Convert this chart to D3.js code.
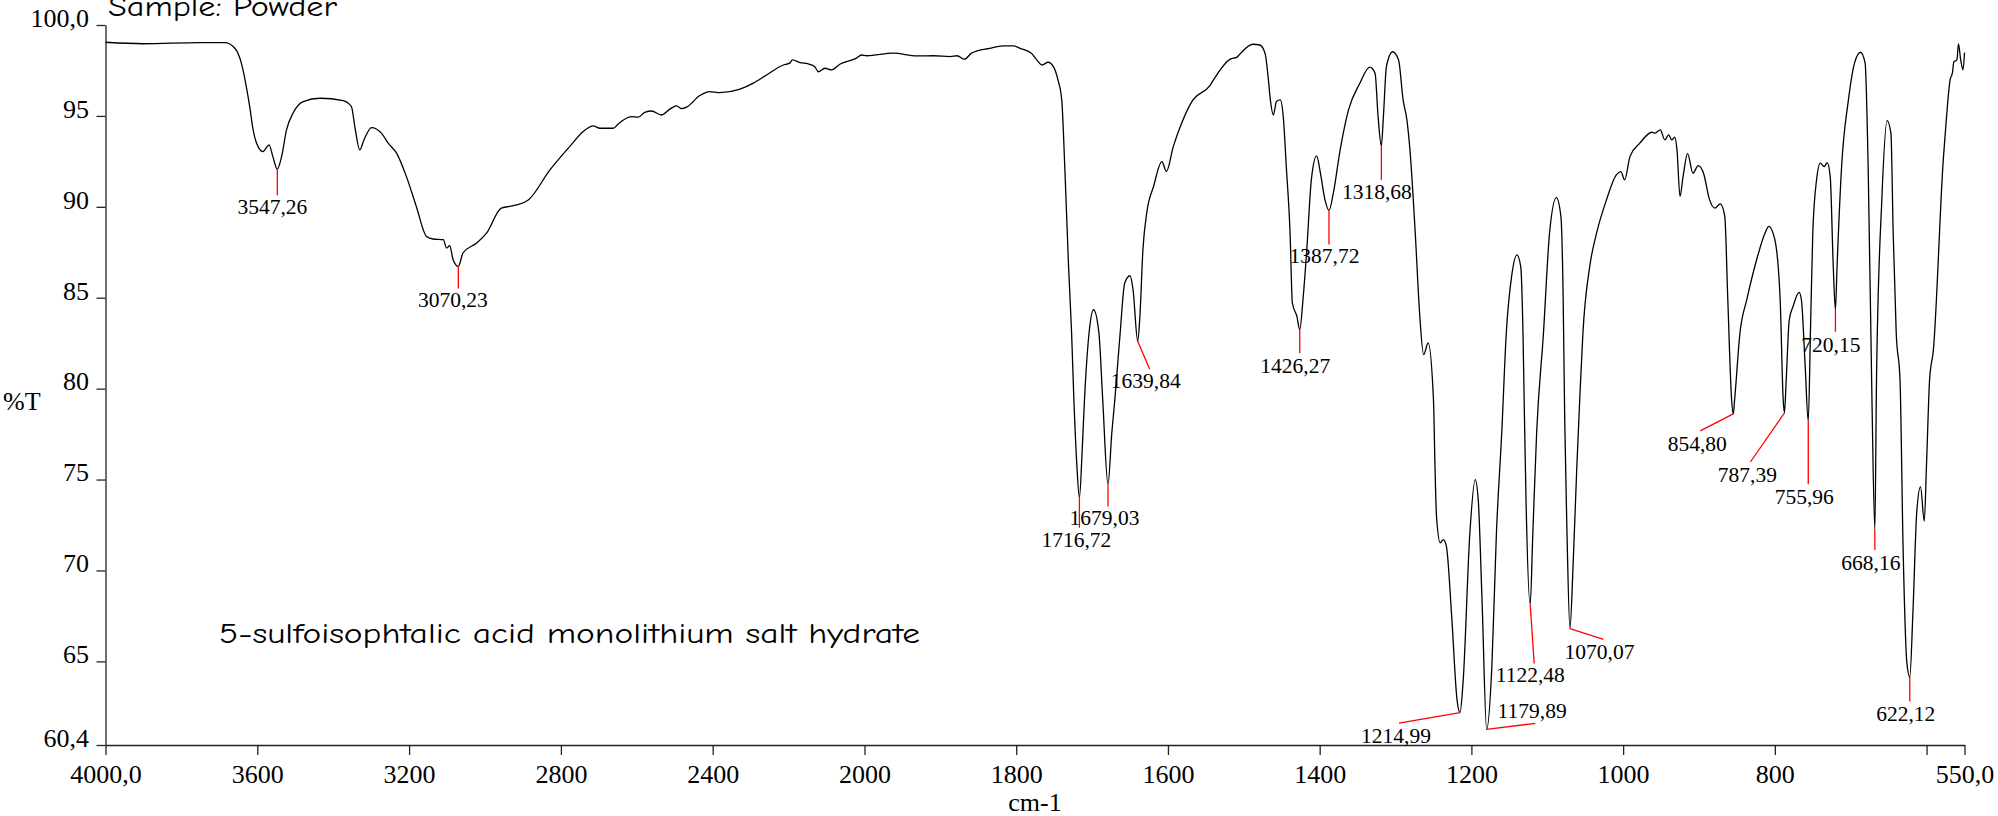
<!DOCTYPE html>
<html>
<head>
<meta charset="utf-8">
<script src="https://cdn.jsdelivr.net/npm/d3@7"></script>
<style>
  body { margin: 0; background: #fff; }
  svg { display: block; }
  .axis text { font-family: "Liberation Serif", "Times New Roman", serif; font-size: 26px; fill: #000; }
  .axis path, .axis line { stroke: #222; stroke-width: 1.3; }
  .spectrum { fill: none; stroke: #000; stroke-width: 1.3; }
  .peak-line { stroke: #f00; stroke-width: 1.3; }
  .peak-label { font-family: "Liberation Serif", "Times New Roman", serif; font-size: 21.5px; fill: #000; text-anchor: middle; }
  .axis-title { font-family: "Liberation Serif", "Times New Roman", serif; font-size: 26px; fill: #000; }
  .comic { font-family: "Comic Sans MS", "Comic Neue", "DejaVu Sans", sans-serif; font-size: 29px; fill: #000; }
</style>
</head>
<body>
<svg width="1998" height="816"></svg>
<script>
// spectrum (cm-1 / %T)
var wavenumber = [
  4000, 3901, 3752, 3686, 3659, 3642, 3629, 3620, 3611, 3598, 3585, 3569, 3559, 3547.26, 3536, 3523, 3506, 3479,
  3435, 3374, 3352, 3343, 3330, 3319, 3299, 3273, 3255, 3233, 3207, 3181, 3154, 3137, 3110, 3101, 3093, 3084,
  3070.23, 3058, 3022, 2996, 2957, 2935, 2886, 2829, 2777, 2741, 2715, 2697, 2662, 2649, 2614, 2596, 2579, 2561,
  2535, 2513, 2495, 2482, 2469, 2434, 2408, 2381, 2328, 2293, 2258, 2214, 2197, 2190, 2170, 2148, 2131, 2122,
  2104, 2087, 2065, 2021, 2008, 1997, 1962, 1931, 1909, 1887, 1878, 1868, 1859, 1835, 1817, 1804, 1795, 1780,
  1773, 1766, 1758, 1751, 1745, 1740, 1736, 1731, 1727, 1724, 1720, 1716.72, 1713, 1710, 1704, 1698, 1691, 1686,
  1679.03, 1674, 1670, 1663, 1657, 1650, 1646, 1639.84, 1637, 1633, 1628, 1619, 1608, 1602, 1593, 1582, 1567,
  1545, 1540, 1518, 1509, 1505, 1488, 1479, 1472, 1468, 1465, 1461, 1457, 1452, 1448, 1444, 1439, 1436, 1430,
  1426.27, 1422, 1417, 1411, 1404, 1399, 1393, 1387.72, 1382, 1373, 1362, 1347, 1334, 1327, 1323, 1318.68, 1316,
  1312, 1304, 1296, 1290, 1285, 1281, 1274, 1268, 1263, 1257, 1250, 1248, 1246, 1241, 1237, 1233, 1226, 1219,
  1214.99, 1211, 1202, 1195, 1191, 1186, 1179.89, 1173, 1167, 1160, 1154, 1147, 1140, 1135, 1132, 1130, 1128,
  1122.48, 1119, 1114, 1105, 1097, 1088, 1082, 1079, 1077, 1074, 1070.07, 1066, 1061, 1057, 1053, 1044, 1035,
  1022, 1009, 1003, 998, 991, 978, 962, 958, 951, 945, 940, 936, 932, 929, 925, 921, 915, 908, 901, 894, 886,
  879, 872, 866, 862, 857, 854.80, 853, 846, 837, 824, 813, 808, 800, 793, 789, 787.39, 785, 781, 776, 768, 765,
  760, 755.96, 753, 750, 745, 740, 735, 731, 727, 723, 720.15, 718, 712, 703, 695, 687, 681, 677, 672, 668.16,
  666, 659, 652, 647, 644, 640, 635, 631, 626, 622.12, 618, 613, 608, 603, 600, 596, 591, 578, 574, 569, 566,
  564, 560, 558, 555, 552, 550
];
var transmittance = [
  99.05, 98.97, 99.03, 99.03, 98.72, 97.90, 96.61, 95.51, 94.23, 93.31, 93.04, 93.41, 92.76, 92.07, 92.76, 94.23, 95.15, 95.79,
  95.97, 95.84, 95.51, 94.41, 93.13, 93.68, 94.36, 94.05, 93.50, 92.95, 91.66, 90.02, 88.37, 88.23, 88.19, 87.73, 87.86, 87.09,
  86.72, 87.46, 88.01, 88.55, 89.93, 90.02, 90.38, 92.03, 93.31, 94.14, 94.45, 94.32, 94.32, 94.56, 94.96, 94.93, 95.20, 95.27,
  95.05, 95.37, 95.55, 95.40, 95.48, 96.12, 96.34, 96.28, 96.47, 96.80, 97.25, 97.80, 97.90, 98.08, 97.93, 97.86, 97.71, 97.43,
  97.62, 97.53, 97.84, 98.18, 98.35, 98.31, 98.45, 98.30, 98.31, 98.26, 98.31, 98.12, 98.45, 98.72, 98.85, 98.85, 98.72, 98.45,
  98.08, 97.80, 97.95, 97.71, 96.98, 95.88, 92.21, 86.72, 83.06, 79.40, 75.73, 74.00, 76.65, 79.40, 83.06, 84.34, 83.06, 79.40,
  74.73, 77.57, 79.40, 83.06, 85.81, 86.21, 85.44, 82.60, 83.97, 87.64, 89.65, 91.12, 92.49, 91.94, 93.31, 94.60, 95.88,
  96.65, 96.98, 98.12, 98.23, 98.41, 98.94, 98.90, 98.45, 97.16, 95.88, 95.05, 95.79, 95.88, 94.96, 92.21, 88.55, 84.71, 83.97,
  83.24, 84.89, 87.64, 91.48, 92.80, 91.85, 90.38, 89.80, 90.75, 93.13, 95.33, 96.80, 97.68, 97.35, 94.96, 93.35, 94.96,
  97.71, 98.53, 98.08, 95.88, 94.78, 93.13, 88.55, 83.97, 81.87, 82.51, 79.40, 75.73, 72.98, 71.52, 71.70, 71.34, 67.49, 62.91,
  62.18, 63.83, 72.07, 75.00, 73.90, 68.41, 61.26, 64.74, 72.07, 77.57, 83.06, 86.17, 87.36, 86.72, 83.06, 78.30, 73.90,
  68.13, 72.07, 77.57, 83.06, 88.55, 90.51, 89.47, 84.89, 78.30, 72.07, 66.80, 70.24, 75.73, 79.58, 83.06, 86.72, 88.55,
  90.38, 91.76, 91.94, 91.48, 92.76, 93.50, 94.10, 94.05, 94.23, 93.68, 93.96, 93.68, 93.83, 93.13, 90.57, 91.66, 92.93, 91.85, 92.27, 91.85, 90.38,
  89.93, 90.16, 89.47, 84.89, 79.40, 78.61, 79.40, 83.06, 84.89, 87.09, 88.55, 88.92, 88.19, 84.89, 79.40, 78.66, 80.49, 83.79, 84.52, 85.29, 84.89,
  81.23, 78.20, 83.24, 88.55, 91.48, 92.40, 92.21, 92.43, 91.66, 86.72, 84.34, 86.72, 92.21, 95.88, 97.90, 98.50, 97.90, 92.21, 79.40, 72.25,
  80.49, 90.38, 94.74, 94.05, 88.55, 83.06, 80.49, 71.34, 64.93, 64.14, 67.68, 73.17, 74.60, 72.71, 75.92, 80.49, 82.14, 92.58, 94.78, 96.98, 97.35,
  97.98, 98.08, 98.96, 98.08, 97.53, 98.48
];

// picked peaks
var peakWavenumber = [3547.26, 3070.23, 1716.72, 1679.03, 1639.84, 1426.27, 1387.72, 1318.68, 1214.99,
                      1179.89, 1122.48, 1070.07, 854.80, 787.39, 755.96, 720.15, 668.16, 622.12];
var peakTransmittance = [92.07, 86.72, 74.00, 74.73, 82.60, 83.24, 89.80, 93.35, 62.18,
                         61.26, 68.13, 66.80, 78.61, 78.66, 78.20, 84.34, 72.25, 64.14];
var peakText = ["3547,26", "3070,23", "1716,72", "1679,03", "1639,84", "1426,27", "1387,72", "1318,68", "1214,99",
                "1179,89", "1122,48", "1070,07", "854,80", "787,39", "755,96", "720,15", "668,16", "622,12"];

// axis ticks
var xTickValues = [4000, 3600, 3200, 2800, 2400, 2000, 1800, 1600, 1400, 1200, 1000, 800, 600, 550];
var xTickLabels = ["4000,0", "3600", "3200", "2800", "2400", "2000", "1800", "1600", "1400", "1200", "1000", "800", "", "550,0"];
var yTickValues = [100, 95, 90, 85, 80, 75, 70, 65, 60.4];
var yTickLabels = ["100,0", "95", "90", "85", "80", "75", "70", "65", "60,4"];

// label placement relative to the peak point: [line dx, line dy, text dx, text dy]
var labelLayout = [
  [0, 26, -5, 45], [0, 22, -5.5, 41], [0, 30, -3, 49], [0, 22, -3.5, 41], [12, 28, 8, 47],
  [0, 23.5, -4.5, 43], [0, 34, -4.5, 53], [0, 34, -4.5, 53], [-61, 10.5, -64, 30.7],
  [48.5, -6, 45.5, -11], [4, 59, 0, 78], [33.5, 10.7, 29.5, 30], [-33, 17, -36, 37],
  [-34, 49, -37, 69], [0, 63, -4, 83], [0, 22, -4.5, 42], [0, 20.5, -4, 40.5], [0, 24.5, -4, 43.5]
];

var svg = d3.select("svg");

// the instrument doubles the scale below 2000 cm-1
var x = d3.scaleLinear().domain([4000, 2000, 550]).range([105.5, 864.5, 1964.5]);
var y = d3.scaleLinear().domain([60.4, 100]).range([745, 25]);

var data = wavenumber.map(function(w, i) { return {w: w, t: transmittance[i]}; });

// axes
var gx = svg.append("g")
    .attr("class", "axis")
    .attr("transform", "translate(0," + y(60.4) + ")")
    .call(d3.axisBottom(x)
      .tickValues(xTickValues)
      .tickFormat(function(d, i) { return xTickLabels[i]; })
      .tickSizeInner(10)
      .tickSizeOuter(0)
      .tickPadding(9.5));

var gy = svg.append("g")
    .attr("class", "axis")
    .attr("transform", "translate(" + x(4000) + ",0)")
    .call(d3.axisLeft(y)
      .tickValues(yTickValues)
      .tickFormat(function(d, i) { return yTickLabels[i]; })
      .tickSizeInner(9)
      .tickSizeOuter(0)
      .tickPadding(7.5));
gy.selectAll("text").attr("dy", "0.05em");

svg.append("text").attr("class", "axis-title")
    .attr("x", 3).attr("y", 410)
    .text("%T");

svg.append("text").attr("class", "axis-title")
    .attr("x", (x(4000) + x(550)) / 2).attr("y", 811)
    .attr("text-anchor", "middle")
    .text("cm-1");

// spectrum
var line = d3.line()
    .x(function(d) { return x(d.w); })
    .y(function(d) { return y(d.t); })
    .curve(d3.curveMonotoneX);

svg.append("path")
    .datum(data)
    .attr("class", "spectrum")
    .attr("d", line);

// peak markers
var peaks = peakWavenumber.map(function(w, i) {
  return {w: w, t: peakTransmittance[i], label: peakText[i], lay: labelLayout[i]};
});

var pg = svg.append("g").selectAll("g")
    .data(peaks)
    .enter().append("g")
    .attr("transform", function(d) { return "translate(" + x(d.w) + "," + y(d.t) + ")"; });

pg.append("line")
    .attr("class", "peak-line")
    .attr("x1", 0).attr("y1", 0)
    .attr("x2", function(d) { return d.lay[0]; })
    .attr("y2", function(d) { return d.lay[1]; });

pg.append("text")
    .attr("class", "peak-label")
    .attr("x", function(d) { return d.lay[2]; })
    .attr("y", function(d) { return d.lay[3]; })
    .text(function(d) { return d.label; });

// sample notes
svg.append("text").attr("class", "comic")
    .attr("x", 108).attr("y", 16)
    .attr("textLength", 229).attr("lengthAdjust", "spacingAndGlyphs")
    .text("Sample: Powder");

svg.append("text").attr("class", "comic")
    .attr("x", 219).attr("y", 643)
    .attr("textLength", 701).attr("lengthAdjust", "spacingAndGlyphs")
    .text("5-sulfoisophtalic acid monolithium salt hydrate");
</script>
</body>
</html>
